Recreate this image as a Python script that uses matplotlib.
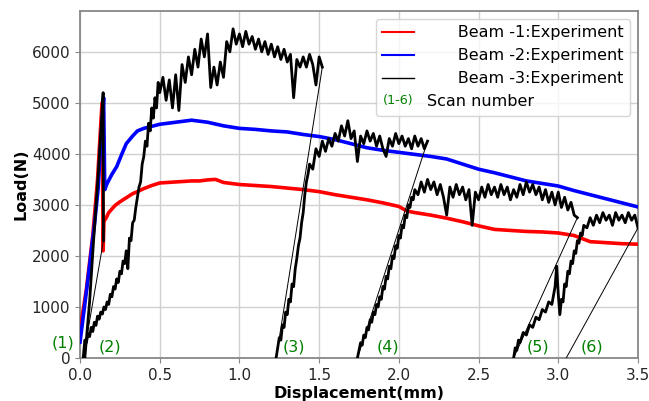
import matplotlib
matplotlib.use("Agg")
import matplotlib.pyplot as plt
from matplotlib.lines import Line2D
from matplotlib.text import Text
from matplotlib.legend_handler import HandlerBase

# Beam-1 (red)
beam1_x = [0.0, 0.04, 0.08, 0.11, 0.138, 0.145, 0.15, 0.16, 0.18, 0.20, 0.22, 0.25, 0.28, 0.30,
           0.33, 0.36, 0.40, 0.45, 0.50, 0.55, 0.60, 0.65, 0.70, 0.75, 0.80, 0.85, 0.90, 0.95,
           1.00, 1.10, 1.20, 1.30, 1.40, 1.50, 1.60, 1.70, 1.80, 1.90, 2.00, 2.05, 2.10, 2.20,
           2.30, 2.40, 2.50, 2.60, 2.70, 2.80, 2.90, 3.00, 3.10, 3.15, 3.20, 3.30, 3.40, 3.50]
beam1_y = [550, 1350, 2400, 3500, 5000, 2100, 2700, 2720, 2850, 2920, 2990, 3060, 3120, 3160,
           3220, 3260, 3320, 3380, 3430, 3440, 3450, 3460, 3470, 3470, 3490, 3500, 3440, 3420,
           3400, 3380, 3360, 3330, 3300, 3260, 3200, 3150, 3100, 3040, 2970, 2880, 2850, 2800,
           2740, 2670, 2590, 2520, 2500, 2480, 2470, 2450, 2400, 2340, 2280, 2260, 2240, 2230]

# Beam-2 (blue)
beam2_x = [0.0, 0.05, 0.09, 0.113, 0.13, 0.148, 0.155, 0.17, 0.20, 0.23, 0.26, 0.29, 0.33, 0.36,
           0.40, 0.50, 0.60, 0.70, 0.80, 0.90, 1.00, 1.10, 1.20, 1.30, 1.40, 1.50, 1.60, 1.70,
           1.80, 1.90, 2.00, 2.10, 2.20, 2.30, 2.40, 2.50, 2.60, 2.70, 2.80, 2.90, 3.00, 3.10,
           3.20, 3.30, 3.40, 3.50]
beam2_y = [310, 1550, 2600, 3300, 4200, 5100, 3300, 3420, 3600, 3750, 3980, 4200, 4350, 4450,
           4500, 4580, 4620, 4660, 4620, 4550, 4500, 4480, 4450, 4430, 4380, 4340, 4280, 4200,
           4120, 4070, 4030, 3990, 3950, 3900, 3800, 3700, 3630, 3550, 3470, 3420, 3370, 3280,
           3200, 3120, 3040, 2960]

# Beam-3 (black), one loading branch per scan
scan1_x = [0.03, 0.06, 0.085, 0.11, 0.13, 0.145, 0.147]
scan1_y = [0, 1100, 2300, 3400, 4400, 5200, 2300]

scan2_x = [0.02, 0.03, 0.04, 0.05, 0.06, 0.07, 0.08, 0.09, 0.10, 0.11, 0.12, 0.13, 0.14, 0.15,
           0.16, 0.17, 0.18, 0.19, 0.20, 0.21, 0.22, 0.23, 0.24, 0.25, 0.26, 0.27, 0.28, 0.29,
           0.30, 0.31, 0.32, 0.33, 0.34, 0.35, 0.36, 0.37, 0.38, 0.39, 0.40, 0.41, 0.42, 0.43,
           0.44, 0.45, 0.46, 0.47, 0.48, 0.49, 0.50, 0.52, 0.54, 0.56, 0.58, 0.60, 0.62, 0.64,
           0.66, 0.68, 0.70, 0.72, 0.74, 0.76, 0.78, 0.80, 0.82, 0.84, 0.86, 0.88, 0.90, 0.92,
           0.94, 0.96, 0.98, 1.00, 1.02, 1.04, 1.06, 1.08, 1.10, 1.12, 1.14, 1.16, 1.18, 1.20,
           1.22, 1.24, 1.26, 1.28, 1.30, 1.32, 1.34, 1.36, 1.38, 1.40, 1.42, 1.44, 1.46, 1.48,
           1.50, 1.52]
scan2_y = [0, 350, 300, 480, 420, 600, 520, 700, 640, 820, 760, 900, 860, 1000,
           950, 1100, 1050, 1250, 1200, 1400, 1350, 1550, 1480, 1700, 1650, 1900, 1850, 2100,
           1750, 2350, 2300, 2650, 2700, 2950, 3150, 3350, 3450, 3800, 3950, 4250, 4150, 4600,
           4450, 4900, 4700, 5100, 4900, 5400, 5200, 5500, 5050, 5450, 4900, 5550, 4850, 5750,
           5400, 5900, 5550, 6050, 5700, 6250, 5900, 6350, 5300, 5700, 5350, 5800, 5500, 6200,
           6000, 6450, 6150, 6350, 6100, 6400, 6150, 6300, 6050, 6250, 6000, 6200, 5950, 6150,
           5900, 6100, 5850, 6050, 5800, 5950, 5100, 5850, 5700, 5900, 5700, 5950, 5750, 5350,
           5900, 5700]

scan3_x = [1.23, 1.24, 1.25, 1.26, 1.27, 1.28, 1.29, 1.30, 1.31, 1.32, 1.33, 1.34, 1.35, 1.36,
           1.37, 1.38, 1.39, 1.40, 1.41, 1.42, 1.43, 1.44, 1.46, 1.48, 1.50, 1.52, 1.54, 1.56,
           1.58, 1.60, 1.62, 1.64, 1.66, 1.68, 1.70, 1.72, 1.74, 1.76, 1.78, 1.80, 1.82, 1.84,
           1.86, 1.88, 1.90, 1.92, 1.94, 1.96, 1.98, 2.00, 2.02, 2.04, 2.06, 2.08, 2.10, 2.12,
           2.14, 2.16, 2.18]
scan3_y = [0, 200, 400, 350, 650, 600, 900, 850, 1150, 1100, 1450, 1400, 1750, 1950,
           2200, 2350, 2650, 2850, 3200, 3450, 3600, 3800, 3700, 4100, 3950, 4250, 4050, 4300,
           4150, 4400, 4250, 4550, 4350, 4650, 4300, 4450, 3850, 4350, 4200, 4450, 4250, 4400,
           4150, 4350, 4100, 3950, 4300, 4150, 4400, 4200, 4350, 4150, 4300, 4100, 4350, 4150,
           4300, 4100, 4250]

scan4_x = [1.74, 1.75, 1.76, 1.77, 1.78, 1.79, 1.80, 1.81, 1.82, 1.83, 1.84, 1.85, 1.86, 1.87,
           1.88, 1.89, 1.90, 1.91, 1.92, 1.93, 1.94, 1.95, 1.96, 1.97, 1.98, 1.99, 2.00, 2.01,
           2.02, 2.03, 2.04, 2.05, 2.06, 2.07, 2.08, 2.09, 2.10, 2.12, 2.14, 2.16, 2.18, 2.20,
           2.22, 2.24, 2.26, 2.28, 2.30, 2.32, 2.34, 2.36, 2.38, 2.40, 2.42, 2.44, 2.46, 2.48,
           2.50, 2.52, 2.54, 2.56, 2.58, 2.60, 2.62, 2.64, 2.66, 2.68, 2.70, 2.72, 2.74, 2.76,
           2.78, 2.80, 2.82, 2.84, 2.86, 2.88, 2.90, 2.92, 2.94, 2.96, 2.98, 3.00, 3.02, 3.04,
           3.06, 3.08, 3.10, 3.12]
scan4_y = [0, 150, 300, 250, 450, 400, 600, 550, 750, 700, 900, 850, 1050, 1000,
           1200, 1150, 1400, 1350, 1600, 1550, 1800, 1750, 2000, 1950, 2200, 2150, 2400, 2350,
           2600, 2550, 2800, 2750, 3000, 2950, 3150, 3100, 3300, 3200, 3450, 3250, 3500, 3300,
           3450, 3200, 3400, 3150, 2800, 3350, 3150, 3400, 3200, 3350, 3100, 3300, 2600, 3250,
           3100, 3350, 3150, 3400, 3200, 3350, 3150, 3400, 3200, 3350, 3100, 3300, 3150, 3400,
           3200, 3450, 3250, 3400, 3200, 3350, 3100, 3300, 3050, 3250, 3000, 3250, 2950, 3150,
           2900, 3050, 2800, 2750]

scan5_x = [2.72, 2.73, 2.74, 2.75, 2.76, 2.78, 2.80, 2.82, 2.84, 2.86, 2.88, 2.90, 2.92, 2.94,
           2.96, 2.98, 2.99, 3.00, 3.01, 3.02, 3.03, 3.04, 3.05, 3.06, 3.07, 3.08, 3.09, 3.10,
           3.11, 3.12, 3.13, 3.14, 3.15, 3.16, 3.18, 3.20, 3.22, 3.24, 3.26, 3.28, 3.30, 3.32,
           3.34, 3.36, 3.38, 3.40, 3.42, 3.44, 3.46, 3.48, 3.50]
scan5_y = [0, 200, 150, 350, 300, 500, 450, 650, 600, 800, 750, 950, 900, 1100,
           1050, 1400, 1800, 1250, 850, 1150, 1100, 1450, 1400, 1700, 1650, 1900, 1850, 2100,
           2050, 2300, 2250, 2450, 2400, 2600, 2550, 2750, 2600, 2800, 2650, 2850, 2700, 2800,
           2600, 2850, 2700, 2800, 2650, 2850, 2700, 2800, 2550]

# last unloading line ends here
final_unload_x = 3.05
final_unload_y = 0

scan_labels = ["(1)", "(2)", "(3)", "(4)", "(5)", "(6)"]


class HandlerLabelText(HandlerBase):
    # draws a short text in the handle slot of the legend
    def create_artists(self, legend, orig_handle, xdescent, ydescent,
                       width, height, fontsize, trans):
        t = Text(width / 2 - xdescent, height / 2 - ydescent, orig_handle.get_text(),
                 color=orig_handle.get_color(), fontsize=fontsize * 0.8,
                 ha="center", va="center", transform=trans)
        return [t]


fig, ax = plt.subplots(figsize=(6.49, 4.01), dpi=100)
fig.subplots_adjust(left=0.1233, right=0.983, bottom=0.1072, top=0.9726)

ax.plot(beam1_x, beam1_y, color="red", lw=2.6, zorder=3)
ax.plot(beam2_x, beam2_y, color="blue", lw=2.6, zorder=3)

scans_x = [scan1_x, scan2_x, scan3_x, scan4_x, scan5_x]
scans_y = [scan1_y, scan2_y, scan3_y, scan4_y, scan5_y]
for i in range(len(scans_x)):
    ax.plot(scans_x[i], scans_y[i], color="black", lw=2.0, zorder=4)
    # unloading line down to the start of the next scan
    if i + 1 < len(scans_x):
        nx, ny = scans_x[i + 1][0], scans_y[i + 1][0]
    else:
        nx, ny = final_unload_x, final_unload_y
    ax.plot([scans_x[i][-1], nx], [scans_y[i][-1], ny], color="black", lw=0.7, zorder=4)

# scan numbers near the bottom axis
label_x = [-0.105, 0.19, 1.34, 1.93, 2.87, 3.21]
label_y = [300, 210, 210, 210, 210, 210]
for lab, xp, yp in zip(scan_labels, label_x, label_y):
    ax.text(xp, yp, lab, color="green", fontsize=11.5, ha="center", va="center",
            clip_on=False, zorder=5)

ax.set_xlim(0, 3.5)
ax.set_ylim(0, 6800)
ax.set_xticks([0.0, 0.5, 1.0, 1.5, 2.0, 2.5, 3.0, 3.5])
ax.set_yticks([0, 1000, 2000, 3000, 4000, 5000, 6000])
ax.grid(True, color="#d0d0d0", lw=1.0)
ax.set_axisbelow(True)
for s in ax.spines.values():
    s.set_color("#888888")
    s.set_linewidth(1.3)
ax.tick_params(labelsize=11, colors="#888888", labelcolor="#262626")

ax.set_xlabel("Displacement(mm)", fontsize=11.5, fontweight="bold", labelpad=2)
ax.set_ylabel("Load(N)", fontsize=11.5, fontweight="bold", labelpad=2)

handles = [
    Line2D([], [], color="red", lw=1.5),
    Line2D([], [], color="blue", lw=1.5),
    Line2D([], [], color="black", lw=1.0),
    Text(text="(1-6)", color="green"),
]
labels = ["      Beam -1:Experiment", "      Beam -2:Experiment",
          "      Beam -3:Experiment", "Scan number"]
ax.legend(handles, labels, loc="upper right", fontsize=11.5,
          handler_map={Text: HandlerLabelText()})

plt.savefig("out.png", dpi=100)
